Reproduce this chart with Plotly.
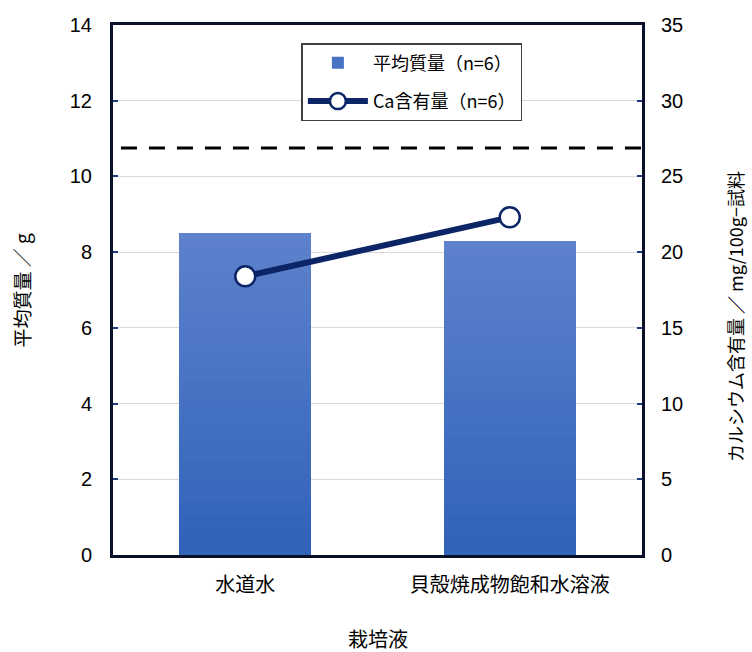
import plotly.graph_objects as go

# ---- data ----
categories = ["水道水", "貝殻焼成物飽和水溶液"]
mean_mass = [8.5, 8.3]            # 平均質量 (g), left axis
ca_content = [18.4, 22.3]         # Ca含有量 (mg/100g-試料), right axis
reference_line = 10.75            # dashed horizontal reference (left axis)
left_ticks = [0, 2, 4, 6, 8, 10, 12, 14]
right_ticks = [0, 5, 10, 15, 20, 25, 30, 35]

bar_name = "平均質量（n=6）"
line_name = "Ca含有量（n=6）"

CJK = "Noto Sans CJK JP"
NUM = "Liberation Sans Narrow, Liberation Sans, Arial"

# gradient colours for bars (bottom -> top)
c_bot = (0x30, 0x62, 0xB9)
c_top = (0x5E, 0x82, 0xCC)
N = 24

fig = go.Figure()
for i in range(N):
    t = (i + 0.5) / N
    col = tuple(round(c_bot[k] + (c_top[k] - c_bot[k]) * t) for k in range(3))
    fig.add_trace(go.Bar(
        x=categories,
        y=[v / N for v in mean_mass],
        marker=dict(color="rgb(%d,%d,%d)" % col, line=dict(width=0)),
        name=bar_name,
        showlegend=(i == N // 2),
        legendgroup="bars",
        legendrank=1,
        hoverinfo="skip",
        yaxis="y",
    ))

fig.add_trace(go.Scatter(
    x=categories,
    y=ca_content,
    mode="lines+markers",
    name=line_name,
    line=dict(color="#0B2566", width=6),
    marker=dict(size=20, color="white", line=dict(color="#0B2566", width=2.5)),
    yaxis="y2",
    legendgroup="line",
    legendrank=2,
))

fig.add_shape(
    type="line", xref="paper", yref="y",
    x0=0.015, x1=1, y0=reference_line, y1=reference_line,
    line=dict(color="black", width=3, dash="16px,12px"),
    layer="above",
)

fig.update_layout(
    width=752, height=652,
    margin=dict(l=113, r=110, t=25, b=97),
    paper_bgcolor="white",
    plot_bgcolor="white",
    barmode="stack",
    bargap=0.5,
    showlegend=True,
    legend=dict(
        x=0.565, y=0.966, xanchor="center", yanchor="top",
        bgcolor="white", bordercolor="#404040", borderwidth=1.5,
        font=dict(family=CJK, size=18, color="black"),
        itemwidth=60,
        traceorder="grouped",
        tracegroupgap=12,
    ),
    xaxis=dict(
        showline=True, linecolor="#0A0F2A", linewidth=3, mirror=True,
        showgrid=False, ticks="",
        tickfont=dict(family=CJK, size=20, color="black"),
        ticklabelstandoff=10,
    ),
    yaxis=dict(
        range=[0, 14], tickvals=left_ticks,
        showline=True, linecolor="#0A0F2A", linewidth=3, mirror=True,
        showgrid=True, gridcolor="#D9D9D9", gridwidth=1,
        ticks="inside", ticklen=5, tickcolor="#1F3A7A", tickwidth=1.5,
        tickfont=dict(family=NUM, size=20, color="black"),
        ticklabelstandoff=14,
        zeroline=False,
    ),
    yaxis2=dict(
        range=[0, 35], tickvals=right_ticks,
        overlaying="y", side="right",
        showline=False, showgrid=False,
        ticks="inside", ticklen=5, tickcolor="#1F3A7A", tickwidth=1.5,
        tickfont=dict(family=NUM, size=20, color="black"),
        ticklabelstandoff=18,
        zeroline=False,
    ),
    annotations=[
        dict(text="平均質量 ／ g", xref="paper", yref="paper",
             x=-0.173, y=0.5, xanchor="center", yanchor="middle",
             textangle=-90, showarrow=False,
             font=dict(family=CJK, size=19, color="black")),
        dict(text="カルシウム含有量 ／ mg/100g−試料", xref="paper", yref="paper",
             x=1.175, y=0.45, xanchor="center", yanchor="middle",
             textangle=-90, showarrow=False,
             font=dict(family=CJK, size=18, color="black")),
        dict(text="栽培液", xref="paper", yref="paper",
             x=0.5, y=-0.158, xanchor="center", yanchor="middle",
             showarrow=False,
             font=dict(family=CJK, size=20, color="black")),
    ],
)

fig.write_html("out.html")
